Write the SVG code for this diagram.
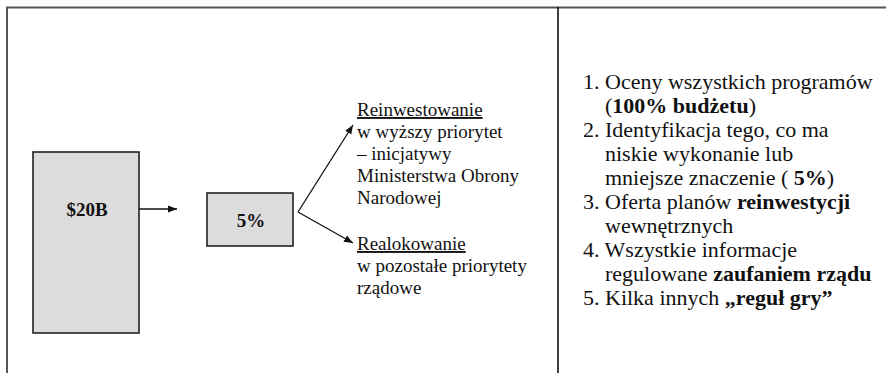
<svg xmlns="http://www.w3.org/2000/svg" width="886" height="373" viewBox="0 0 886 373">
<style>
.frame{stroke:#555;stroke-width:2;fill:none}
.div{stroke:#111;stroke-width:1.6;fill:none}
.box{fill:#dcdcdc;stroke:#222;stroke-width:1.6}
.lbl{font-family:"Liberation Serif","Times New Roman",serif;font-weight:bold;font-size:19px;fill:#111;text-anchor:middle}
.mid{font-family:"Liberation Serif","Times New Roman",serif;font-size:19px;fill:#111}
.rt{font-family:"Liberation Serif","Times New Roman",serif;font-size:22px;fill:#111}
.b{font-weight:bold}
.conn{stroke:#111;stroke-width:1.3;fill:none}
</style>
<defs>
<marker id="ah" viewBox="0 0 10 10" refX="10" refY="5" markerWidth="9" markerHeight="9" markerUnits="userSpaceOnUse" orient="auto">
<path d="M0,1 L10,5 L0,9 Z" fill="#111"/>
</marker>
</defs>
<rect width="886" height="373" fill="#fff"/>
<g id="frame">
<path class="frame" d="M7,373 V7.5 H886"/>
<path class="div" d="M558,7 V373"/>
</g>
<g id="node-20b">
<rect class="box" x="33" y="152" width="106" height="181"/>
<text class="lbl" x="87" y="216">$20B</text>
</g>
<g id="node-5pct">
<rect class="box" x="207" y="193" width="86" height="53"/>
<text class="lbl" x="251" y="227">5%</text>
</g>
<g id="connectors">
<path class="conn" d="M139,209 H177" marker-end="url(#ah)"/>
<path class="conn" d="M298,212 L353,125" marker-end="url(#ah)"/>
<path class="conn" d="M298,212 L353,243" marker-end="url(#ah)"/>
</g>
<g id="reinvest">
<text class="mid" x="357" y="116"><tspan text-decoration="underline">Reinwestowanie</tspan></text>
<text class="mid" x="357" y="138">w wyższy priorytet</text>
<text class="mid" x="357" y="160">– inicjatywy</text>
<text class="mid" x="357" y="182">Ministerstwa Obrony</text>
<text class="mid" x="357" y="204">Narodowej</text>
</g>
<g id="reallocate">
<text class="mid" x="357" y="250"><tspan text-decoration="underline">Realokowanie</tspan></text>
<text class="mid" x="357" y="272">w pozostałe priorytety</text>
<text class="mid" x="357" y="294">rządowe</text>
</g>
<g id="list">
<text class="rt" x="583" y="89">1. Oceny wszystkich programów</text>
<text class="rt" x="605" y="113">(<tspan class="b">100% budżetu</tspan>)</text>
<text class="rt" x="583" y="137">2. Identyfikacja tego, co ma</text>
<text class="rt" x="605" y="161">niskie wykonanie lub</text>
<text class="rt" x="605" y="185">mniejsze znaczenie ( <tspan class="b">5%</tspan>)</text>
<text class="rt" x="583" y="209">3. Oferta planów <tspan class="b">reinwestycji</tspan></text>
<text class="rt" x="605" y="233">wewnętrznych</text>
<text class="rt" x="583" y="257">4. Wszystkie informacje</text>
<text class="rt" x="605" y="281">regulowane <tspan class="b">zaufaniem rządu</tspan></text>
<text class="rt" x="583" y="305">5. Kilka innych <tspan class="b">„reguł gry”</tspan></text>
</g>
</svg>
